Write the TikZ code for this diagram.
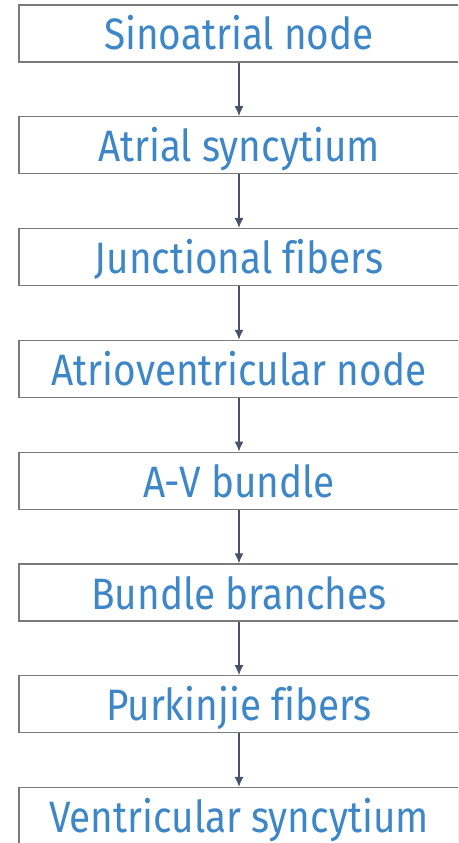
\documentclass[tikz,border=0pt]{standalone}
\usepackage{fontspec}
\setmainfont{Fira Sans}[FakeStretch=0.88, Ligatures={NoCommon}]
\usepackage{tikz}
\usetikzlibrary{arrows.meta}

\definecolor{boxgray}{HTML}{7A7A7A}
\definecolor{textblue}{HTML}{3D86C8}
\definecolor{arrowslate}{HTML}{475366}

\tikzset{
    stage/.style={draw=boxgray, line width=1.3pt, minimum width=440pt, minimum height=57pt,
        inner sep=0pt, text height=42pt, text depth=9pt, text=textblue,
        font=\fontsize{44}{44}\selectfont},
    flow/.style={draw=arrowslate, line width=1.4pt, -{Latex[length=10pt,width=9pt]}}
}

\begin{document}
\begin{tikzpicture}[x=1pt, y=1pt]

    \clip (0,0) rectangle (458,-843);

    % nodes
    \node[stage] at (239,-33.5) (a) {Sinoatrial node};
    \node[stage] at (239,-145.3) (b) {Atrial syncytium};
    \node[stage] at (239,-257.1) (c) {Junctional fibers};
    \node[stage] at (239,-368.9) (d) {Atrioventricular node};
    \node[stage] at (239,-480.7) (e) {A-V bundle};
    \node[stage] at (239,-592.5) (f) {Bundle branches};
    \node[stage] at (239,-704.3) (g) {Purkinjie fibers};
    \node[stage] at (239,-816.1) (h) {Ventricular syncytium};

    % paths
    \draw[flow] (a) -- (b); % Sinoatrial -> Atrial
    \draw[flow] (b) -- (c); % Atrial -> Junctional
    \draw[flow] (c) -- (d); % Junctional -> AV node
    \draw[flow] (d) -- (e); % AV node -> bundle
    \draw[flow] (e) -- (f); % bundle -> branches
    \draw[flow] (f) -- (g); % branches -> Purkinjie
    \draw[flow] (g) -- (h); % Purkinjie -> Ventricular

\end{tikzpicture}
\end{document}
